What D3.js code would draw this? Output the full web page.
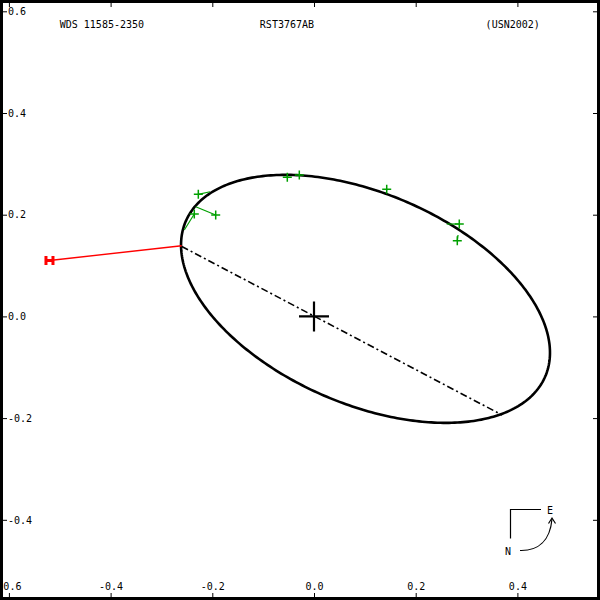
<!DOCTYPE html>
<html><head><meta charset="utf-8">
<script src="https://cdn.jsdelivr.net/npm/d3@7"></script>
<style>
body{margin:0;background:#fff}
svg text{font-family:"DejaVu Sans Mono","Liberation Mono",monospace;font-size:10px;fill:#000}
</style>
</head><body><svg id="c" width="600" height="600"></svg>
<script>
// ---- data ----
const titleLabels = ["WDS 11585-2350", "RST3767AB", "(USN2002)"];
const titleAnchorsX = [-0.5, -0.1065, 0.3375];
const xTicks = [-0.6, -0.4, -0.2, 0.0, 0.2, 0.4];
const yTicks = [0.6, 0.4, 0.2, 0.0, -0.2, -0.4];
const orbitCenter = [0.1013, 0.0345];
const orbitAxes = [0.385, 0.207];
const orbitTiltDeg = [-23.4];
const nodeStart = [-0.2600, 0.1375];
const nodeEnd = [0.3697, -0.1939];
const greenObsX = [-0.2275, -0.1933, -0.2354, -0.0525, -0.0289, 0.1430, 0.2857, 0.2818];
const greenObsY = [0.2401, 0.1994, 0.2014, 0.2736, 0.2781, 0.2500, 0.1817, 0.1489];
const greenPredX = [-0.2045, -0.2326, -0.2551, -0.0525, -0.0289, 0.1430, 0.2609, 0.2832];
const greenPredY = [0.2452, 0.2157, 0.1699, 0.2771, 0.2781, 0.2480, 0.1817, 0.1601];
const redObsX = [-0.5202];
const redObsY = [0.1099];
const redPredX = [-0.2602];
const redPredY = [0.1390];

// ---- drawing ----
const svg = d3.select("#c");
const S = 508.5;
const x = d3.scaleLinear().domain([-0.6, 0.6]).range([314 - 0.6 * S, 314 + 0.6 * S]);
const y = d3.scaleLinear().domain([-0.6, 0.6]).range([316.4 + 0.6 * S, 316.4 - 0.6 * S]);
const fmt = d => (Math.abs(d) < 1e-9 ? 0 : d).toFixed(1);

// axes
function styleAxis(g) {
  g.select(".domain").remove();
  g.selectAll("line").attr("stroke", "#000").attr("stroke-width", 1);
}
svg.append("g").attr("transform", "translate(0,597)")
  .call(d3.axisTop(x).tickValues(xTicks).tickSize(4).tickPadding(3).tickFormat(fmt)).call(styleAxis);
svg.append("g").attr("transform", "translate(3,0)")
  .call(d3.axisRight(y).tickValues(yTicks).tickSize(4).tickPadding(1).tickFormat(fmt)).call(styleAxis);
svg.append("g").attr("transform", "translate(0,3)")
  .call(d3.axisBottom(x).tickValues(xTicks).tickSize(4).tickFormat("")).call(styleAxis);
svg.append("g").attr("transform", "translate(597,0)")
  .call(d3.axisLeft(y).tickValues(yTicks).tickSize(4).tickFormat("")).call(styleAxis);

// titles
svg.selectAll("text.title").data(titleLabels).join("text").attr("class", "title")
  .attr("x", (d, i) => x(titleAnchorsX[i])).attr("y", 28).text(d => d);

// orbit ellipse
const th = orbitTiltDeg[0] * Math.PI / 180;
const pts = d3.range(0, 361).map(k => {
  const t = k * Math.PI / 180;
  const u = orbitAxes[0] * Math.cos(t), v = orbitAxes[1] * Math.sin(t);
  return [orbitCenter[0] + u * Math.cos(th) - v * Math.sin(th),
          orbitCenter[1] + u * Math.sin(th) + v * Math.cos(th)];
});
svg.append("path").attr("d", d3.line().x(p => x(p[0])).y(p => y(p[1])).curve(d3.curveLinearClosed)(pts))
  .attr("fill", "none").attr("stroke", "#000").attr("stroke-width", 2.6);

// line of nodes
svg.append("line").attr("x1", x(nodeStart[0])).attr("y1", y(nodeStart[1]))
  .attr("x2", x(nodeEnd[0])).attr("y2", y(nodeEnd[1]))
  .attr("stroke", "#000").attr("stroke-width", 1.6).attr("stroke-dasharray", "7,3,2,3");

// primary
svg.append("path").attr("d", `M${x(0) - 15},${y(0)}H${x(0) + 15}M${x(0)},${y(0) - 15}V${y(0) + 15}`)
  .attr("stroke", "#000").attr("stroke-width", 2.2).attr("fill", "none");

// green observations
const green = "#00a000";
greenObsX.forEach((ox, i) => {
  const px = x(ox), py = y(greenObsY[i]);
  svg.append("line").attr("x1", px).attr("y1", py).attr("x2", x(greenPredX[i])).attr("y2", y(greenPredY[i]))
    .attr("stroke", green).attr("stroke-width", 1.2);
  svg.append("path").attr("d", `M${px - 4.5},${py}H${px + 4.5}M${px},${py - 4.5}V${py + 4.5}`)
    .attr("stroke", green).attr("stroke-width", 1.5).attr("fill", "none");
});

// red observation
redObsX.forEach((ox, i) => {
  const px = x(ox), py = y(redObsY[i]);
  svg.append("line").attr("x1", px).attr("y1", py).attr("x2", x(redPredX[i])).attr("y2", y(redPredY[i]))
    .attr("stroke", "#ff0000").attr("stroke-width", 1.4);
  svg.append("path").attr("d", `M${px - 3.5},${py - 4.5}V${py + 4.5}M${px + 3.5},${py - 4.5}V${py + 4.5}M${px - 3.5},${py}H${px + 3.5}`)
    .attr("stroke", "#ff0000").attr("stroke-width", 3).attr("fill", "none");
});

// compass
svg.append("path").attr("d", "M541,509.5H510.5V538.5").attr("stroke", "#000").attr("stroke-width", 1.2).attr("fill", "none");
svg.append("path").attr("d", "M520,550.5C538,551 550,541 552,519").attr("stroke", "#000").attr("stroke-width", 1.2).attr("fill", "none");
svg.append("path").attr("d", "M548.5,523.5L552,518L555.5,523.5").attr("stroke", "#000").attr("stroke-width", 1.2).attr("fill", "none");
svg.append("text").attr("x", 550).attr("y", 513.5).attr("text-anchor", "middle").text("E");
svg.append("text").attr("x", 508).attr("y", 554.5).attr("text-anchor", "middle").text("N");

// frame
svg.append("rect").attr("x", 1.5).attr("y", 1.5).attr("width", 597).attr("height", 597)
  .attr("fill", "none").attr("stroke", "#000").attr("stroke-width", 3);
</script>
</body></html>
